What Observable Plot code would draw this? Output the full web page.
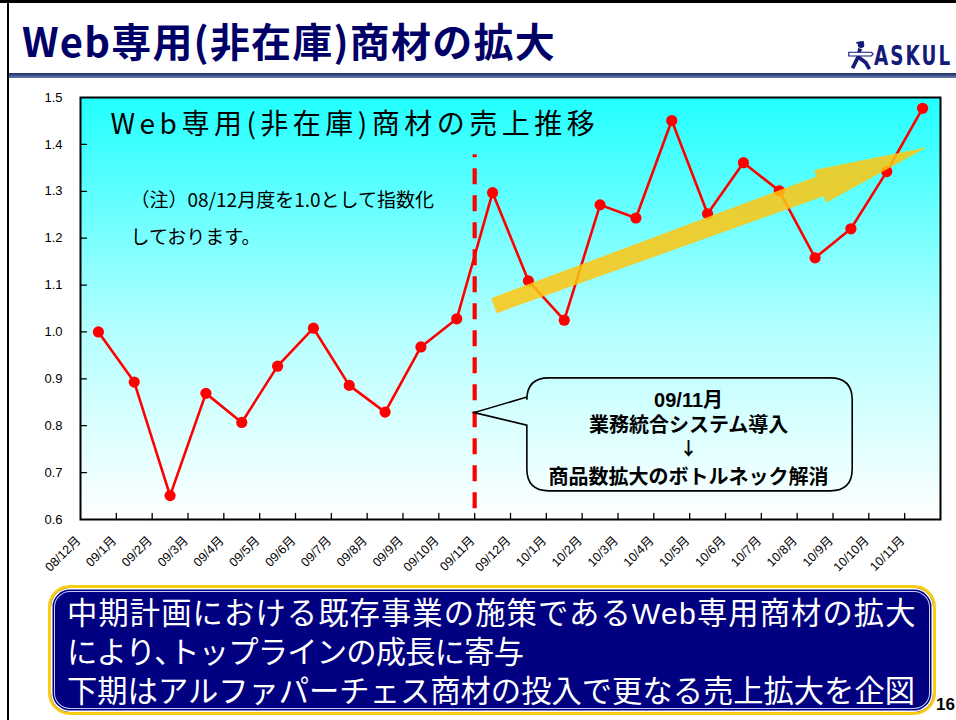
<!DOCTYPE html>
<html>
<head>
<meta charset="utf-8">
<script src="https://cdn.jsdelivr.net/npm/d3@7"></script>
<script src="https://cdn.jsdelivr.net/npm/@observablehq/plot@0.6"></script>
<style>
  html, body { margin: 0; padding: 0; background: #fff; }
  #page { position: relative; width: 956px; height: 720px; overflow: hidden; background: #fff;
          font-family: "Liberation Sans", "Noto Sans CJK JP", sans-serif; }
  #topline { position: absolute; left: 0; top: 0; width: 956px; height: 3px; background: #000; }
  #leftline { position: absolute; left: 7px; top: 0; width: 2px; height: 720px; background: #000; }
  #title { position: absolute; left: 22px; top: 11px; font-family: "Noto Sans CJK JP", sans-serif;
           font-weight: bold; font-size: 40px; color: #000066; white-space: nowrap; letter-spacing: 1.2px; }
  #rule { position: absolute; left: 9px; top: 73px; width: 947px; height: 5px;
          background: linear-gradient(#1a2a6a, #6a7aa8); }
  #logo { position: absolute; left: 846px; top: 40px; height: 32px; }
  #logotext { position: absolute; left: 874px; top: 40px; font-family: "DejaVu Sans", sans-serif; font-weight: bold;
              font-size: 27px; color: #141a78; transform: scaleX(0.68); transform-origin: left top; letter-spacing: 3px; }
  #chart { position: absolute; left: 0; top: 80px; }
  #box { position: absolute; left: 48px; top: 585px; width: 882px; height: 124px; border-radius: 22px;
         background: #000080; border: 3px solid #F8CC10;
         box-shadow: inset 0 0 0 1.5px #fff, inset 0 0 0 3px #000080, inset 0 0 0 4px #c8c8ff; }
  #boxtext { position: absolute; left: 16px; top: 6px; color: #fff; font-family: "Liberation Sans", "Noto Sans CJK JP", sans-serif;
             font-size: 30.3px; line-height: 39px; white-space: nowrap; }
  #boxtext div { height: 39px; }
  #boxtext div:nth-child(1) { letter-spacing: 1.1px; }
  #boxtext div:nth-child(2) { letter-spacing: -0.8px; }
  #pageno { position: absolute; left: 936px; top: 695px; font-weight: bold; font-size: 17px; color: #000; }
</style>
</head>
<body>
<div id="page">
  <div id="topline"></div>
  <div id="leftline"></div>
  <div id="title"></div>
  <div id="rule"></div>
  <svg id="logo" width="30" height="34" viewBox="0 0 30 34">
    <g fill="#141a78" stroke="#141a78">
      <circle cx="15" cy="5" r="3.5" stroke="none"/>
      <path d="M10 3 L18 2" stroke-width="2"/>
      <path d="M14 9 L12 18 L6 30" stroke-width="4" fill="none"/>
      <path d="M12 18 L20 24 L24 31" stroke-width="4" fill="none"/>
      <path d="M2 13 L26 13 L28 15 L26 17 L2 17 Z" fill="#fff" stroke-width="1.2"/>
    </g>
  </svg>
  <div id="logotext">ASKUL</div>
  <div id="chart"></div>
  <div id="box"><div id="boxtext"></div></div>
  <div id="pageno">16</div>
</div>
<script>
// ---- data ----
const slideTitle = "Web専用(非在庫)商材の拡大";
const chartTitle = "Web専用(非在庫)商材の売上推移";
const noteText = "（注）08/12月度を1.0として指数化\nしております。";
const calloutText = "09/11月\n業務統合システム導入\n\n商品数拡大のボトルネック解消";
const calloutArrow = "↓";
const summaryLines = [
  "中期計画における既存事業の施策であるWeb専用商材の拡大",
  "により､トップラインの成長に寄与",
  "下期はアルファパーチェス商材の投入で更なる売上拡大を企図"
];
const months = ["08/12月","09/1月","09/2月","09/3月","09/4月","09/5月","09/6月","09/7月","09/8月","09/9月","09/10月","09/11月",
                "09/12月","10/1月","10/2月","10/3月","10/4月","10/5月","10/6月","10/7月","10/8月","10/9月","10/10月","10/11月"];
const salesIndex = [1.000,0.893,0.651,0.869,0.807,0.927,1.008,0.886,0.829,0.968,1.028,1.297,
                    1.109,1.025,1.271,1.243,1.451,1.252,1.361,1.301,1.158,1.220,1.342,1.477];
const yTicks = [0.6,0.7,0.8,0.9,1.0,1.1,1.2,1.3,1.4,1.5];

document.getElementById("title").textContent = slideTitle;
document.getElementById("boxtext").innerHTML = summaryLines.map(s => `<div>${s}</div>`).join("");

const rows = months.map((m, i) => ({i, m, v: salesIndex[i]}));
const idx = d3.range(months.length);
const boundaries = d3.range(1, months.length).map(i => i - 0.5);

const red = "#FF0000";
const latinCJK = "'Liberation Sans', 'Noto Sans CJK JP', sans-serif";
const tickShape = {draw(ctx, l) { ctx.moveTo(0, 0); ctx.lineTo(0, -l); }};

// gradient defs
const defs = () => {
  const d = d3.create("svg:defs");
  const g = d.append("linearGradient").attr("id", "bgGrad").attr("x1", 0).attr("y1", 0).attr("x2", 0).attr("y2", 1);
  g.append("stop").attr("offset", "0%").attr("stop-color", "#22FFFF");
  g.append("stop").attr("offset", "55%").attr("stop-color", "#B4FFFF");
  g.append("stop").attr("offset", "100%").attr("stop-color", "#FFFFFF");
  return d.node();
};

// trend arrow in data coordinates
const arrowFrom = {x: 11.05, y: 1.055};
const arrowTo = {x: 23.14, y: 1.393};
const trendArrow = (index, scales) => {
  const x0 = scales.x(arrowFrom.x), y0 = scales.y(arrowFrom.y);
  const x1 = scales.x(arrowTo.x), y1 = scales.y(arrowTo.y);
  const L = Math.hypot(x1 - x0, y1 - y0);
  const ux = (x1 - x0) / L, uy = (y1 - y0) / L;
  const nx = -uy, ny = ux;
  const headLen = 114, tailHW = 8, bodyHW = 10.5, headHW = 17.5;
  const pt = (a, o) => [x0 + ux * a + nx * o, y0 + uy * a + ny * o];
  const pts = [pt(0, -tailHW), pt(L - headLen, -bodyHW), pt(L - headLen, -headHW), pt(L, 0),
               pt(L - headLen, headHW), pt(L - headLen, bodyHW), pt(0, tailHW)];
  const p = d3.create("svg:path")
    .attr("d", "M" + pts.map(q => q.join(",")).join("L") + "Z")
    .attr("fill", "#FFC510").attr("fill-opacity", 0.85);
  return p.node();
};

// callout bubble in data coordinates
const callout = {tipX: 10.5, tipY: 0.827, x1: 11.97, x2: 21.05, yTop: 0.901, yBot: 0.66, w1: 0.860, w2: 0.800,
                 textX: 16.47, textY: 0.776};
const calloutShape = (index, scales) => {
  const sx = scales.x, sy = scales.y;
  const L = sx(callout.x1), R = sx(callout.x2), T = sy(callout.yTop), B = sy(callout.yBot);
  const tx = sx(callout.tipX), ty = sy(callout.tipY);
  const a = sy(callout.w1), b = sy(callout.w2);
  const r = 22;
  const d = `M${L},${T + r} Q${L},${T} ${L + r},${T} L${R - r},${T} Q${R},${T} ${R},${T + r} L${R},${B - r} Q${R},${B} ${R - r},${B} ` +
            `L${L + r},${B} Q${L},${B} ${L},${B - r} L${L},${b} L${tx},${ty} L${L},${a} Z`;
  return d3.create("svg:path").attr("d", d).attr("fill", "none").attr("stroke", "#000").attr("stroke-width", 1.6).node();
};

const chart = Plot.plot({
  width: 956,
  height: 510,
  marginLeft: 80,
  marginRight: 16,
  marginTop: 17,
  marginBottom: 71,
  style: {fontFamily: latinCJK, background: "transparent", color: "#000"},
  x: {domain: [-0.5, months.length - 0.5], label: null},
  y: {domain: [0.6, 1.5], label: null},
  marks: [
    defs,
    Plot.frame({fill: "url(#bgGrad)", stroke: "none"}),
    Plot.axisY(yTicks, {tickSize: 0, tickPadding: 18, tickFormat: d3.format(".1f"), fontSize: 13, label: null}),
    Plot.axisX(idx, {tickSize: 0, tickPadding: 19, tickRotate: -45, tickFormat: i => months[i], fontSize: 12.5, dx: -20, label: null}),
    Plot.vector(boundaries, {x: d => d, y: 0.6, length: 6, rotate: 0, anchor: "start", shape: tickShape, stroke: "#000", strokeWidth: 1.3}),
    Plot.vector(yTicks.slice(1, -1), {x: -0.5, y: d => d, length: 6, rotate: 90, anchor: "start", shape: tickShape, stroke: "#000", strokeWidth: 1.3}),
    Plot.ruleX([10.5], {y1: 0.623, y2: 1.378, stroke: red, strokeWidth: 4.2, strokeDasharray: "16,11"}),
    Plot.line(rows, {x: "i", y: "v", stroke: red, strokeWidth: 2.6}),
    Plot.dot(rows, {x: "i", y: "v", r: 5.6, fill: red, stroke: "none"}),
    trendArrow,
    calloutShape,
    Plot.text([chartTitle], {frameAnchor: "top-left", dx: 30, dy: 17, textAnchor: "start", lineAnchor: "top",
                             fontSize: 28, fill: "#000", fontFamily: "'Noto Sans CJK JP', sans-serif"}),
    Plot.text([noteText], {frameAnchor: "top-left", dx: 50, dy: 83, textAnchor: "start", lineAnchor: "top",
                           fontSize: 19, lineHeight: 1.95, fill: "#000", fontFamily: "'Noto Sans CJK JP', sans-serif"}),
    Plot.text([calloutText], {x: callout.textX, y: callout.textY, fontSize: 20, fontWeight: "bold", lineHeight: 1.29, fill: "#000",
                              fontFamily: latinCJK}),
    Plot.text([calloutArrow], {x: callout.textX, y: callout.textY, dy: 12.5, fontSize: 18, fontWeight: "bold", fill: "#000",
                               fontFamily: "'Noto Sans CJK JP', sans-serif"}),
    Plot.frame({stroke: "#000", strokeWidth: 2})
  ]
});
document.getElementById("chart").appendChild(chart);
// letter spacing on the inner title
d3.select(chart).selectAll("text").filter(function() { return this.textContent === chartTitle; })
  .attr("letter-spacing", "4.5px");
</script>
</body>
</html>
